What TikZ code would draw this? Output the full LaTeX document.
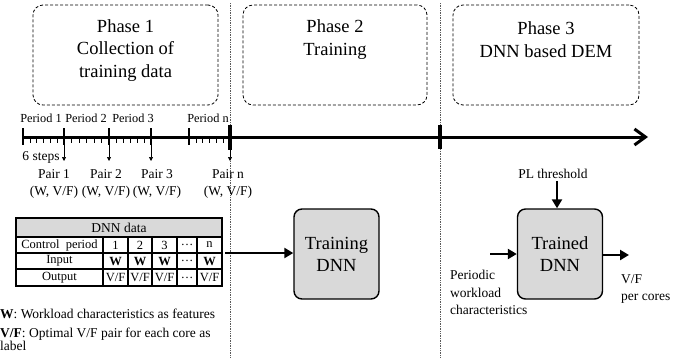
\documentclass[tikz,border=0pt]{standalone}
\usepackage{fontspec}
\setmainfont{Liberation Serif}
\renewcommand{\familydefault}{\rmdefault}
\usetikzlibrary{arrows.meta}
\definecolor{boxgray}{RGB}{217,217,217}
\definecolor{sepgray}{RGB}{90,90,90}
\newcommand{\fsz}[2]{\rmfamily\fontsize{#1}{#2}\selectfont}
\begin{document}
\begin{tikzpicture}[x=1pt,y=-1pt, font=\rmfamily,
  phasebox/.style={draw, dash pattern=on 3pt off 2pt, line width=0.8pt,
    rounded corners=10pt, minimum height=100pt, inner sep=0pt},
  phasetext/.style={align=center, font=\fsz{18.5}{22.5}, inner sep=0pt},
  dnnbox/.style={draw, line width=1.4pt, fill=boxgray, rounded corners=8pt,
    minimum width=85pt, minimum height=90pt, align=center,
    font=\fsz{18.5}{22}, inner sep=0pt},
  sep/.style={sepgray, line width=0.7pt, dash pattern=on 0.8pt off 0.9pt},
  periodlbl/.style={font=\fsz{12.3}{14}, inner sep=0pt},
  smalltxt/.style={font=\fsz{13.5}{17}, inner sep=0pt},
  pairlbl/.style={align=center, font=\fsz{13.5}{17}, inner sep=0pt},
  majortick/.style={line width=1.3pt},
  minortick/.style={line width=0.6pt},
  bigtick/.style={line width=4pt},
  downarrow/.style={line width=0.7pt, -{Triangle[length=4pt,width=4pt]}},
  bigarrow/.style={line width=2.8pt, -{Triangle[length=9pt,width=10pt]}},
  cellline/.style={line width=1.3pt},
  celltxt/.style={font=\fsz{12.5}{14}, inner sep=0pt},
]
\useasboundingbox (0,0) rectangle (687,360);

% phase separators
\draw[sep] (230,3) -- (230,358);
\draw[sep] (440,3) -- (440,358);

% phase boxes
\node[phasebox, minimum width=185pt] (p1) at (125.5,55) {};
\node[phasebox, minimum width=184pt] (p2) at (335,55) {};
\node[phasebox, minimum width=186pt] (p3) at (546,55) {};
\node[phasetext] (p1t) at (125.5,50.5) {Phase 1\\Collection of\\training data};
\node[phasetext] (p2t) at (335,39.5) {Phase 2\\Training};
\node[phasetext] (p3t) at (546,39.5) {Phase 3\\DNN based DEM};

% time axis
\coordinate (t0) at (22,137);
\coordinate (tend) at (648,137);
\draw[line width=3pt, -{Straight Barb[length=11pt,width=16pt]}] (t0) -- (tend);
\foreach \x in {23,64,109,151,189}
  \draw[majortick] (\x,128) -- (\x,145);
\foreach \a/\b in {23/64,64/109,109/151,189/230}
  \foreach \k in {1,...,5}
    \draw[minortick] ({\a+\k*(\b-\a)/6},137) -- ({\a+\k*(\b-\a)/6},143);
\draw[bigtick] (230,125) -- (230,150);
\draw[bigtick] (440,125) -- (440,149);

% period labels
\node[periodlbl] (per1) at (41,118) {Period 1};
\node[periodlbl] (per2) at (86,118) {Period 2};
\node[periodlbl] (per3) at (133,118) {Period 3};
\node[periodlbl] (pern) at (208,118) {Period n};
\node[smalltxt] (steps) at (41,157) {6 steps};

% samples taken at the end of each period
\foreach \x/\n in {64/1,109/2,151/3,230/n} {
  \coordinate (s\n) at (\x,145);
  \coordinate (e\n) at (\x,161);
  \draw[downarrow] (s\n) -- (e\n);
}
\node[pairlbl] (pair1) at (54,183.5) {Pair 1\\(W, V/F)};
\node[pairlbl] (pair2) at (106,183.5) {Pair 2\\(W, V/F)};
\node[pairlbl] (pair3) at (157,183.5) {Pair 3\\(W, V/F)};
\node[pairlbl] (pairn) at (228,183.5) {Pair n\\(W, V/F)};

% DNN data table
\fill[boxgray] (16,218) rectangle (222,237);
\draw[cellline] (16,218) rectangle (222,286);
\foreach \y in {237,253,269}
  \draw[cellline] (16,\y) -- (222,\y);
\foreach \x in {103,128,152,177,197}
  \draw[cellline] (\x,237) -- (\x,286);
\node[font=\fsz{13.5}{15}, inner sep=0pt] (thead) at (119,227.5) {DNN data};
\node[celltxt] (rc) at (59.5,245) {Control~ period};
\node[celltxt] (ri) at (59.5,261) {Input};
\node[celltxt] (ro) at (59.5,277.5) {Output};
\foreach \x/\c in {115.5/1,140/2,164.5/3,187/\ldots,209.5/n}
  \node[celltxt] at (\x,245) {\c};
\foreach \x/\c in {115.5/\textbf{W},140/\textbf{W},164.5/\textbf{W},187/\ldots,209.5/\textbf{W}}
  \node[celltxt] at (\x,261) {\c};
\foreach \x/\c in {115.5/{V/F},140/{V/F},164.5/{V/F},187/\ldots,209.5/{V/F}}
  \node[celltxt] at (\x,277.5) {\c};
\coordinate (tblout) at (225,253);

% legend
\node[smalltxt, anchor=west] (legw) at (0,314) {\textbf{W}: Workload characteristics as features};
\node[smalltxt, anchor=west, align=left, font=\fsz{13.5}{13.5}] (legvf) at (0,339.5)
  {\textbf{V/F}: Optimal V/F pair for each core as\\label};

% phase 2: training
\node[dnnbox] (train) at (336.5,254) {Training\\DNN};
\draw[bigarrow] (tblout) -- (train.west |- tblout);

% phase 3: runtime management
\node[dnnbox] (trained) at (560,254) {Trained\\DNN};
\node[smalltxt] (pl) at (553,174) {PL threshold};
\draw[bigarrow] (pl.south -| 557,0) ++(0,2) -- (557,0 |- trained.north);
\coordinate (win) at (490,254);
\draw[bigarrow] (win) -- (trained.west |- win);
\node[smalltxt, anchor=west, align=left, font=\fsz{13.5}{17.5}] (wl) at (450,292.5)
  {Periodic\\workload\\characteristics};
\coordinate (vfout) at (629,255);
\draw[bigarrow] (trained.east |- vfout) -- (vfout);
\node[smalltxt, anchor=west, align=left] (vf) at (621,288.5) {V/F\\per cores};
\end{tikzpicture}
\end{document}
